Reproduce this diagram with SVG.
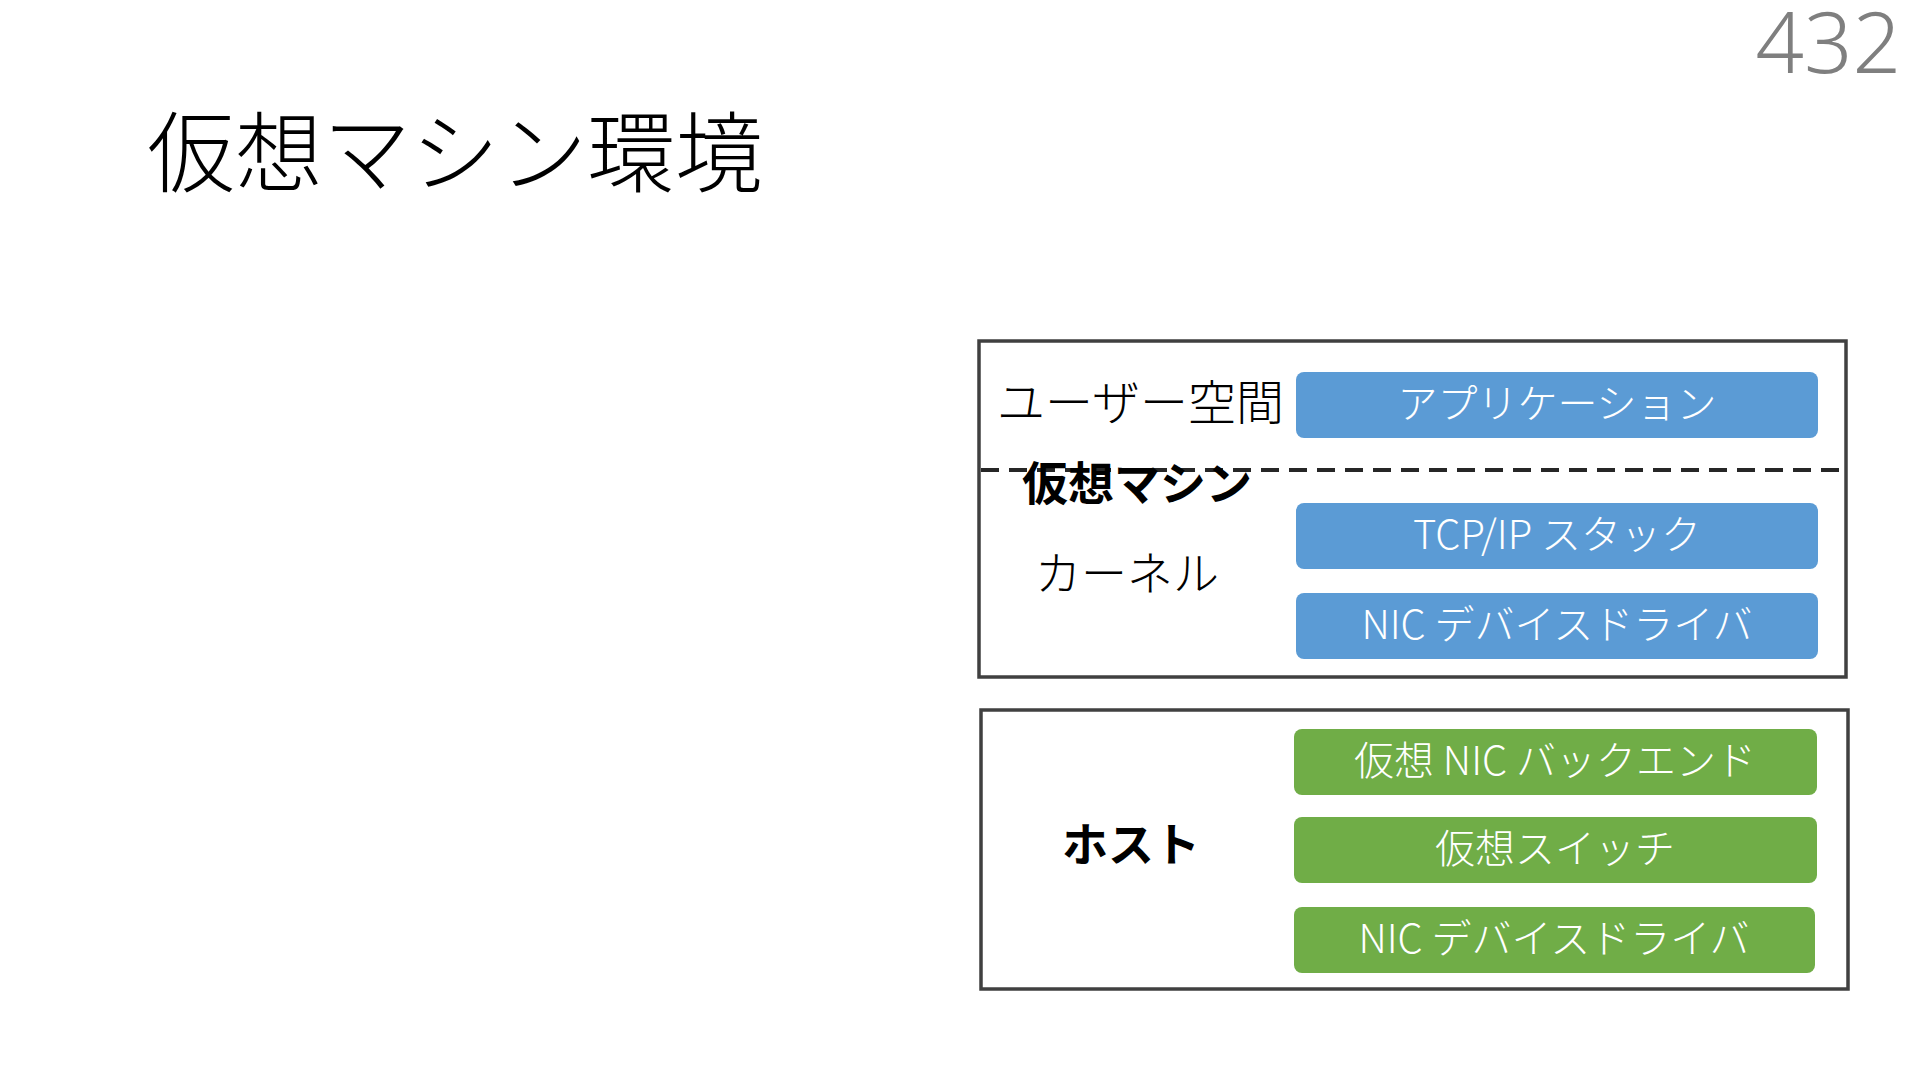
<svg xmlns="http://www.w3.org/2000/svg" width="1920" height="1080" viewBox="0 0 1920 1080">
<style>
text { font-family: "Noto Sans CJK JP", "Noto Sans", sans-serif; }
.title { font-size: 88px; font-weight: 300; fill: #000; }
.pnum { font-size: 85px; font-weight: 300; fill: #7f7f7f; font-family: "Noto Sans", "Open Sans", sans-serif; }
.frame { fill: #fff; stroke: #404040; stroke-width: 3.5; }
.dash { stroke: #262626; stroke-width: 4; stroke-dasharray: 18 10; fill: none; }
.lbl { font-size: 46px; font-weight: 300; fill: #000; }
.lblb { font-size: 46px; font-weight: 700; fill: #000; }
.blue { fill: #5B9BD5; }
.green { fill: #70AD47; }
.btxt { font-size: 40px; font-weight: 300; fill: #fff; text-anchor: middle; }
</style>
<text class="title" x="147" y="185">仮想マシン環境</text>
<text class="pnum" x="1901" y="73" text-anchor="end">432</text>

<g id="vm-frame">
  <rect class="frame" x="979" y="341" width="867" height="336"/>
</g>
<g id="host-frame">
  <rect class="frame" x="981" y="710" width="867" height="279"/>
</g>
<g id="connectors">
  <line class="dash" x1="981" y1="470" x2="1845" y2="470"/>
</g>
<g id="label-user"><text class="lbl" x="997" y="420" style="font-size:48px">ユーザー空間</text></g>
<g id="label-vm"><text class="lblb" x="1022" y="500">仮想マシン</text></g>
<g id="label-kernel"><text class="lbl" x="1035" y="590">カーネル</text></g>
<g id="label-host"><text class="lblb" x="1062" y="861">ホスト</text></g>

<g id="app">
  <rect class="blue" x="1296" y="372" width="522" height="66" rx="8"/>
  <text class="btxt" x="1557" y="418">アプリケーション</text>
</g>
<g id="tcpip">
  <rect class="blue" x="1296" y="503" width="522" height="66" rx="8"/>
  <text class="btxt" x="1557" y="549">TCP/IP スタック</text>
</g>
<g id="vm-nic">
  <rect class="blue" x="1296" y="593" width="522" height="66" rx="8"/>
  <text class="btxt" x="1557" y="639">NIC デバイスドライバ</text>
</g>
<g id="vnic-backend">
  <rect class="green" x="1294" y="729" width="523" height="66" rx="8"/>
  <text class="btxt" x="1555" y="775">仮想 NIC バックエンド</text>
</g>
<g id="vswitch">
  <rect class="green" x="1294" y="817" width="523" height="66" rx="8"/>
  <text class="btxt" x="1555" y="863">仮想スイッチ</text>
</g>
<g id="host-nic">
  <rect class="green" x="1294" y="907" width="521" height="66" rx="8"/>
  <text class="btxt" x="1554" y="953">NIC デバイスドライバ</text>
</g>
</svg>
